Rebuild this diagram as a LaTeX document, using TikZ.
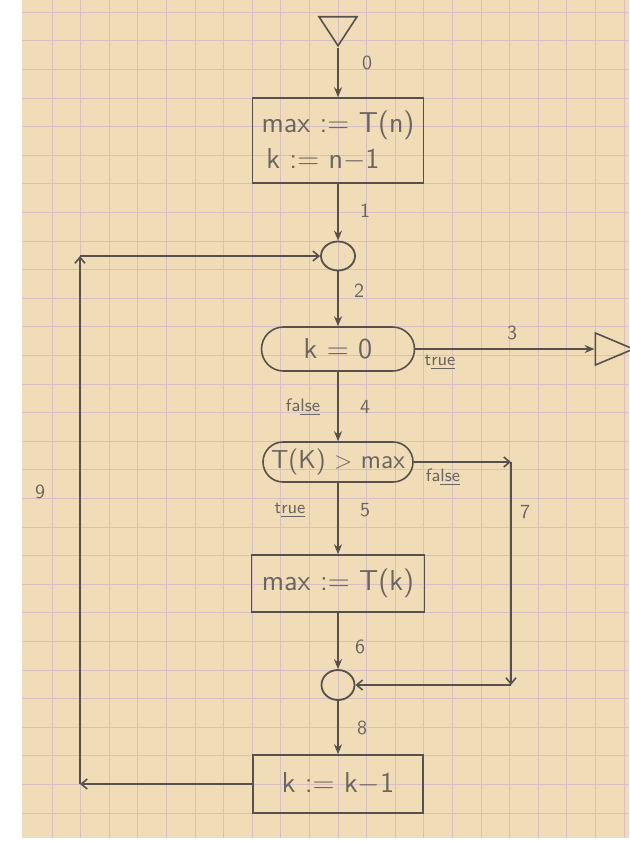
\documentclass[tikz,border=0pt]{standalone}
\usepackage{xcolor}
\definecolor{fcpaper}{HTML}{F1DCB8}
\definecolor{fcgrid}{HTML}{D6C0C4}
\definecolor{fcink}{HTML}{56514D}
\definecolor{fcpen}{HTML}{6B655F}
\usetikzlibrary{arrows.meta,positioning,shapes.geometric}
\tikzset{
  fcline/.style  ={draw=fcgrid, line width=0.4pt},
  fcbox/.style   ={rectangle, draw=fcink, line width=0.8pt, minimum width=85.5pt,
                   minimum height=28.5pt, inner sep=1pt, font=\sffamily\Large, text=fcpen},
  fcterm/.style  ={fcbox, minimum width=76pt, minimum height=21pt},
  fcjoin/.style  ={ellipse, draw=fcink, line width=0.9pt, minimum width=17pt,
                   minimum height=14.5pt, inner sep=0pt},
  fctri/.style   ={isosceles triangle, isosceles triangle stretches, draw=fcink,
                   line width=0.8pt, inner sep=0pt},
  fcflow/.style  ={-{Stealth[length=5pt,width=4pt]}, line width=1pt, draw=fcink},
  fcback/.style  ={-{Straight Barb[length=3pt,width=5pt]}, line width=0.8pt, draw=fcink},
  fclbl/.style   ={font=\sffamily, text=fcpen},
  fcsmall/.style ={font=\sffamily\small, text=fcpen},
}

\begin{document}
\begin{tikzpicture}[x=0.5pt, y=-0.5pt]
  \useasboundingbox (0,0) rectangle (629,841);
  % squared paper
  \fill[fcpaper] (22,0) rectangle (629,838);
  \foreach \i in {0,...,20}
    \draw[fcline] (52+\i*28.6,0) -- (52+\i*28.6,838);
  \foreach \j in {0,...,28}
    \draw[fcline] (22,12.2+\j*28.6) -- (629,12.2+\j*28.6);
  % blocks
  \node[fctri, shape border rotate=270, minimum width=19pt, minimum height=14.5pt]
    (start) at (338,27) {};
  \node[fcbox, minimum height=42.5pt, align=left] (init) at (338,140.5)
    {max := T(n)\\\,k := n$-$1};
  \node[fcjoin] (joinA) at (338,256) {};
  \node[fcterm, rounded corners=11pt, minimum width=76.5pt, minimum height=22pt]
    (kzero) at (338,349) {k = 0};
  \node[fctri, minimum width=16pt, minimum height=19pt] (stop) at (606,349) {};
  \node[fcterm, rounded corners=10pt, minimum width=75pt, minimum height=20pt,
        font=\sffamily\fontsize{13}{15}\selectfont]
    (tkmax) at (338,462) {T(K) $>$ max};
  \node[fcbox, minimum width=86.5pt] (setmax) at (338,583.5) {max := T(k)};
  \node[fcjoin, minimum width=16.5pt, minimum height=15pt] (joinB) at (338,685) {};
  \node[fcbox, minimum width=85pt, minimum height=29pt] (deck) at (338,784) {k := k$-$1};
  \coordinate (rtop) at (511,462);
  \coordinate (rbot) at (511,685);
  \coordinate (lbot) at (80,784);
  \coordinate (ltop) at (80,256);
  % main flow
  \draw[fcflow] (start.apex) -- (init.north);
  \draw[fcflow] (init.south) -- (joinA.north);
  \draw[fcflow] (joinA.south) -- (kzero.north);
  \draw[fcflow] (kzero.east) -- (stop.west);
  \draw[fcflow] (kzero.south) -- (tkmax.north);
  \draw[fcflow] (tkmax.south) -- (setmax.north);
  \draw[fcflow] (setmax.south) -- (joinB.north);
  \draw[fcflow] (joinB.south) -- (deck.north);
  % bypass and loop
  \draw[fcback] (tkmax.east) -- (rtop);
  \draw[fcback] (rtop) -- (rbot);
  \draw[fcback] (rbot) -- (joinB.east);
  \draw[fcback] (deck.west) -- (lbot);
  \draw[fcback] (lbot) -- (ltop);
  \draw[fcback] (ltop) -- (joinA.west);
  % edge numbers
  \node[fclbl] (n0) at (367,63) {0};
  \node[fclbl] (n1) at (365,211) {1};
  \node[fclbl] (n2) at (359,291) {2};
  \node[fclbl] (n3) at (512,333) {3};
  \node[fclbl] (n4) at (365,407) {4};
  \node[fclbl] (n5) at (365,510) {5};
  \node[fclbl] (n6) at (360,647) {6};
  \node[fclbl] (n7) at (525,512) {7};
  \node[fclbl] (n8) at (362,728) {8};
  \node[fclbl] (n9) at (40,492) {9};
  \node[fcsmall] (tA) at (440,362) {t\underline{rue}};
  \node[fcsmall] (fA) at (303,407) {fa\underline{lse}};
  \node[fcsmall] (fB) at (443,477) {fa\underline{lse}};
  \node[fcsmall] (tB) at (290,510) {t\underline{rue}};
\end{tikzpicture}
\end{document}
